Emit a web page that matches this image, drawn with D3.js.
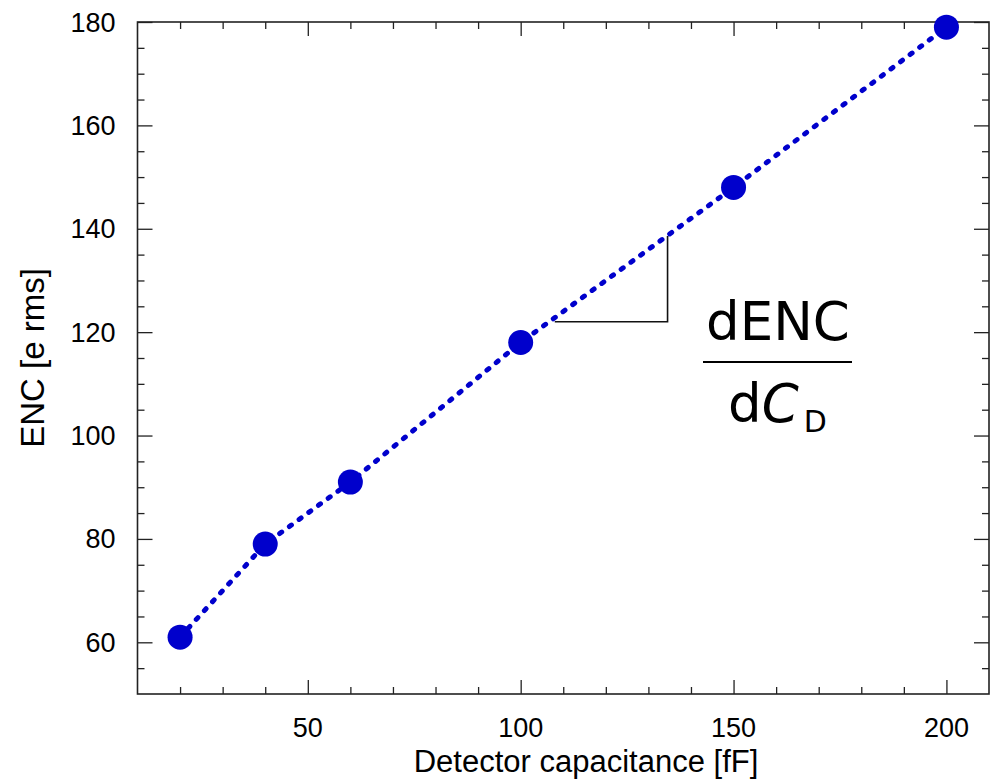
<!DOCTYPE html>
<html>
<head>
<meta charset="utf-8">
<script src="https://cdn.jsdelivr.net/npm/d3@7"></script>
<style>
  body { margin: 0; background: #fff; }
  text { font-family: "Liberation Sans", Arial, sans-serif; }
</style>
</head>
<body>
<div id="chart-area"></div>
<script>
// DATA
var capacitance = [20, 40, 60, 100, 150, 200];
var enc = [61, 79, 91, 118, 148, 179];
var xMajorTicks = [50, 100, 150, 200];
var yMajorTicks = [60, 80, 100, 120, 140, 160, 180];
// slope triangle (in data units)
var slopeX = [108, 134.5, 134.5];
var slopeY = [122, 122, 138.6];

var width = 997;
var height = 779;
var margin = { top: 22, right: 8, bottom: 85, left: 137.5 };
var blue = "#0000cc";

var svg = d3.select("#chart-area")
    .append("svg")
    .attr("width", width)
    .attr("height", height);

// SCALES
var x = d3.scaleLinear().domain([10, 210]).range([margin.left, width - margin.right]);
var y = d3.scaleLinear().domain([50, 180]).range([height - margin.bottom, margin.top]);

var x0 = x.range()[0], x1 = x.range()[1];
var y0 = y.range()[0], y1 = y.range()[1];

//AXIS - ticks inward on all four sides
function addAxes(axisFn, scale, ticks, size, transform) {
    svg.append("g")
        .attr("transform", transform)
        .call(axisFn(scale).tickValues(ticks).tickSize(size).tickFormat(""))
        .call(g => g.select(".domain").remove())
        .selectAll("line").attr("stroke", "#222").attr("stroke-width", 1.3);
}
var xMinor = d3.range(20, 210, 10).filter(d => xMajorTicks.indexOf(d) < 0);
var yMinor = d3.range(55, 180, 5).filter(d => yMajorTicks.indexOf(d) < 0);

addAxes(d3.axisTop, x, xMajorTicks, 14, "translate(0," + y0 + ")");
addAxes(d3.axisTop, x, xMinor, 7, "translate(0," + y0 + ")");
addAxes(d3.axisBottom, x, xMajorTicks, 14, "translate(0," + y1 + ")");
addAxes(d3.axisBottom, x, xMinor, 7, "translate(0," + y1 + ")");
addAxes(d3.axisRight, y, yMajorTicks, 15, "translate(" + x0 + ",0)");
addAxes(d3.axisRight, y, yMinor, 7, "translate(" + x0 + ",0)");
addAxes(d3.axisLeft, y, yMajorTicks, 15, "translate(" + x1 + ",0)");
addAxes(d3.axisLeft, y, yMinor, 7, "translate(" + x1 + ",0)");

// frame
svg.append("rect")
    .attr("x", x0).attr("y", y1)
    .attr("width", x1 - x0).attr("height", y0 - y1)
    .attr("fill", "none").attr("stroke", "#222").attr("stroke-width", 1.6);

// tick labels
svg.append("g").selectAll("text").data(xMajorTicks).enter()
    .append("text")
    .attr("x", d => x(d))
    .attr("y", y0 + 43)
    .attr("text-anchor", "middle")
    .attr("font-size", "27px")
    .text(d => d);

svg.append("g").selectAll("text").data(yMajorTicks).enter()
    .append("text")
    .attr("x", x0 - 22)
    .attr("y", d => y(d) + 9.5)
    .attr("text-anchor", "end")
    .attr("font-size", "27px")
    .text(d => d);

//---TITLE LABELS
svg.append("text")
    .attr("x", 586)
    .attr("y", 772)
    .attr("text-anchor", "middle")
    .attr("font-size", "31px")
    .text("Detector capacitance [fF]");

svg.append("text")
    .attr("transform", "translate(44," + 358 + ") rotate(-90)")
    .attr("text-anchor", "middle")
    .attr("font-size", "33px")
    .text("ENC [e rms]");

// dotted line through points
var pts = capacitance.map((c, i) => [c, enc[i]]);
svg.append("path")
    .datum(pts)
    .attr("d", d3.line().x(d => x(d[0])).y(d => y(d[1])))
    .attr("fill", "none")
    .attr("stroke", blue)
    .attr("stroke-width", 5)
    .attr("stroke-linecap", "round")
    .attr("stroke-dasharray", "2.5 9.5");

// slope triangle
svg.append("path")
    .datum(slopeX.map((v, i) => [v, slopeY[i]]))
    .attr("d", d3.line().x(d => x(d[0])).y(d => y(d[1])))
    .attr("fill", "none")
    .attr("stroke", "#111")
    .attr("stroke-width", 1.6);

// markers
svg.append("g").selectAll("circle").data(pts).enter()
    .append("circle")
    .attr("cx", d => x(d[0]))
    .attr("cy", d => y(d[1]))
    .attr("r", 12.5)
    .attr("fill", blue);

// fraction annotation
var frac = svg.append("g");
frac.append("text")
    .attr("x", 778).attr("y", 340)
    .attr("text-anchor", "middle")
    .attr("font-size", "53px")
    .style("font-family", "'Comic Sans MS', 'DejaVu Sans', sans-serif")
    .text("dENC");
frac.append("line")
    .attr("x1", 703).attr("x2", 852)
    .attr("y1", 362).attr("y2", 362)
    .attr("stroke", "#000").attr("stroke-width", 2);
var den = frac.append("text")
    .attr("x", 728).attr("y", 422)
    .attr("font-size", "53px")
    .style("font-family", "'Comic Sans MS', 'DejaVu Sans', sans-serif");
den.append("tspan").text("d");
den.append("tspan").attr("font-style", "italic").text("C");
den.append("tspan").attr("font-size", "30px").attr("dx", 5).attr("dy", 10).text("D");
</script>
</body>
</html>
